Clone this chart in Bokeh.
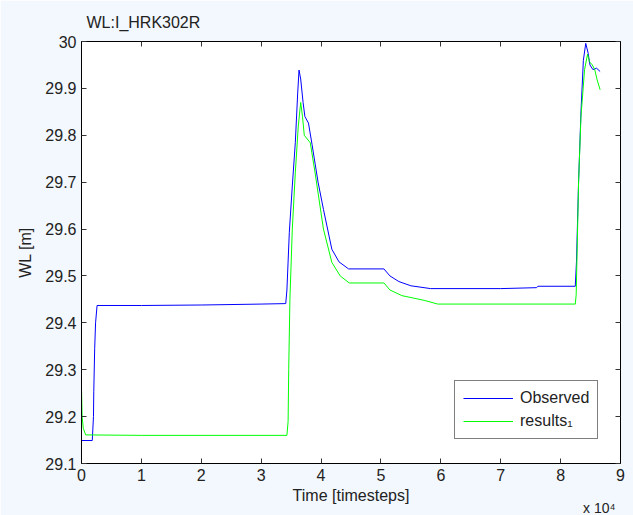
from bokeh.plotting import figure
from bokeh.models import (Range1d, FixedTicker, LinearAxis, Legend, Title,
                          LegendItem, CustomJSTickFormatter)
from bokeh.embed import file_html
from bokeh.resources import INLINE

# ---- data (time in units of 1e4 timesteps) ----
obs_x = [0.0, 0.18, 0.20, 0.205, 0.22, 0.235, 0.26, 1.0, 2.0, 3.0, 3.41, 3.43,
         3.47, 3.52, 3.57, 3.61, 3.632, 3.66, 3.70, 3.73, 3.79, 3.85, 3.95,
         4.04, 4.18, 4.30, 4.46, 5.05, 5.15, 5.30, 5.50, 5.83, 7.0, 7.6, 7.62,
         8.245, 8.265, 8.30, 8.34, 8.38, 8.42, 8.46, 8.49, 8.54, 8.60, 8.66]
obs_y = [29.149, 29.149, 29.20, 29.253, 29.345, 29.40, 29.437, 29.437, 29.438,
         29.44, 29.441, 29.47, 29.593, 29.692, 29.784, 29.89, 29.939, 29.92,
         29.87, 29.84, 29.826, 29.78, 29.70, 29.642, 29.557, 29.53, 29.515,
         29.515, 29.50, 29.488, 29.479, 29.473, 29.473, 29.475, 29.478, 29.478,
         29.53, 29.70, 29.85, 29.96, 29.996, 29.975, 29.95, 29.94, 29.943, 29.936]

res_x = [0.0, 0.01, 0.03, 0.07, 1.0, 3.43, 3.45, 3.46, 3.48, 3.52, 3.57, 3.62,
         3.66, 3.69, 3.72, 3.82, 3.90, 4.04, 4.18, 4.32, 4.47, 5.05, 5.15, 5.35,
         5.72, 5.95, 8.245, 8.26, 8.30, 8.34, 8.40, 8.45, 8.48, 8.53, 8.57,
         8.61, 8.66]
res_y = [29.26, 29.20, 29.175, 29.161, 29.16, 29.16, 29.19, 29.30, 29.45, 29.60,
         29.72, 29.82, 29.870, 29.84, 29.80, 29.784, 29.72, 29.60, 29.529, 29.50,
         29.485, 29.485, 29.47, 29.458, 29.448, 29.44, 29.44, 29.46, 29.70,
         29.84, 29.94, 29.973, 29.957, 29.95, 29.94, 29.918, 29.897]

x_ticks = [0, 1, 2, 3, 4, 5, 6, 7, 8, 9]
y_ticks = [29.1, 29.2, 29.3, 29.4, 29.5, 29.6, 29.7, 29.8, 29.9, 30.0]
title_text = "WL:I_HRK302R"
x_label = "Time [timesteps]"
x_scale_text = "x 10\u2074"
y_label = "WL [m]"
series_names = ["Observed", "results\u2081"]
series_colors = ["#0000ff", "#00ff00"]

FONT = "Liberation Sans"
TXT = "#222222"

p = figure(width=633, height=515, output_backend="svg", toolbar_location=None,
           x_range=Range1d(0, 9), y_range=Range1d(29.1, 30.0),
           min_border_left=81, min_border_right=13, min_border_top=39,
           min_border_bottom=52)
p.background_fill_color = "white"
p.border_fill_color = "#f2f8fd"
p.outline_line_color = "black"
p.xgrid.visible = False
p.ygrid.visible = False

p.title.text = title_text
p.title.align = "left"
p.title.offset = 5
p.title.text_font = FONT
p.title.text_font_size = "16px"
p.title.text_font_style = "normal"
p.title.text_color = TXT
p.title.vertical_align = "bottom"
p.title.standoff = 22

fmt_y = CustomJSTickFormatter(code="return (Math.round(tick*10)/10).toString();")
fmt_blank = CustomJSTickFormatter(code="return '';")

for ax in (p.xaxis[0], p.yaxis[0]):
    ax.major_tick_in = 5
    ax.major_tick_out = 0
    ax.minor_tick_in = 0
    ax.minor_tick_out = 0
    ax.axis_line_color = "black"
    ax.major_tick_line_color = "#333333"
    ax.major_label_text_font = FONT
    ax.major_label_text_font_size = "16px"
    ax.major_label_text_color = TXT
    ax.major_label_standoff = 5
    ax.axis_label_text_font = FONT
    ax.axis_label_text_font_size = "16px"
    ax.axis_label_text_font_style = "normal"
    ax.axis_label_text_color = TXT

p.xaxis[0].ticker = FixedTicker(ticks=x_ticks)
p.yaxis[0].ticker = FixedTicker(ticks=y_ticks)
p.yaxis[0].formatter = fmt_y
p.xaxis[0].axis_label = x_label
p.yaxis[0].axis_label = y_label
p.xaxis[0].axis_label_standoff = 3
p.yaxis[0].axis_label_standoff = 8

for loc, ticks in (("above", x_ticks), ("right", y_ticks)):
    ax = LinearAxis(ticker=FixedTicker(ticks=ticks), formatter=fmt_blank,
                    major_label_standoff=0, major_tick_in=5, major_tick_out=0,
                    minor_tick_in=0, minor_tick_out=0, axis_line_color="black",
                    major_tick_line_color="#333333")
    p.add_layout(ax, loc)

p.add_layout(Title(text=x_scale_text, align="right", offset=5, standoff=-18,
                   text_font=FONT, text_font_size="14px",
                   text_font_style="normal", text_color=TXT), "below")

r1 = p.line(obs_x, obs_y, line_color=series_colors[0], line_width=1)
r2 = p.line(res_x, res_y, line_color=series_colors[1], line_width=1)

legend = Legend(items=[LegendItem(label=series_names[0], renderers=[r1]),
                       LegendItem(label=series_names[1], renderers=[r2])],
                location=(373, 24), orientation="vertical",
                label_text_font=FONT, label_text_font_size="16px",
                label_text_color=TXT, label_height=18, glyph_height=18,
                glyph_width=50, label_standoff=7, padding=8, spacing=5, margin=0,
                border_line_color="black", border_line_width=1,
                background_fill_color="white", background_fill_alpha=1.0)
p.add_layout(legend, "center")

open("out.html", "w").write(file_html(p, INLINE))
